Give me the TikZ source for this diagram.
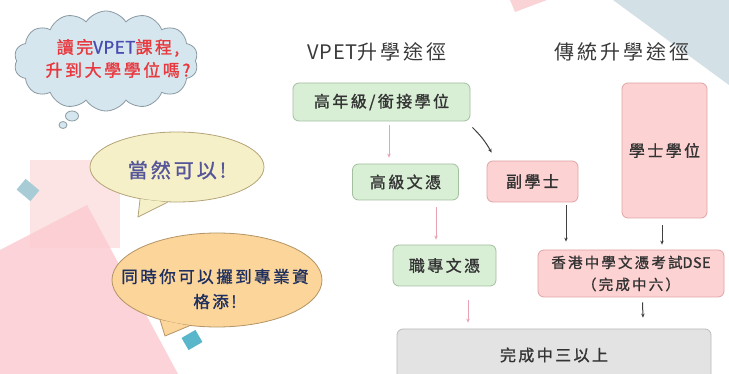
\documentclass[tikz,border=0pt]{standalone}
\usepackage{fontspec}
\setmainfont{Noto Sans CJK TC}[LetterSpace=15,AutoFakeBold=1.2]
\newcommand{\tightlat}[1]{{\addfontfeature{LetterSpace=3}#1}}
\usetikzlibrary{shapes.symbols,shapes.geometric,arrows.meta}
\definecolor{bgblue}{HTML}{D3E0E6}
\definecolor{bgpink}{HTML}{F9D3D6}
\definecolor{sqpink}{HTML}{FCE3E4}
\definecolor{tripink}{HTML}{FBCCD2}
\definecolor{sqblue}{HTML}{A8CCD5}
\definecolor{sqteal}{HTML}{5AB6CA}
\definecolor{cloudfill}{HTML}{D6E6EE}
\definecolor{cloudline}{HTML}{8A9AA2}
\definecolor{yelfill}{HTML}{F6F0C8}
\definecolor{yelline}{HTML}{B4A478}
\definecolor{orafill}{HTML}{FBD59A}
\definecolor{oraline}{HTML}{B49464}
\definecolor{redtxt}{HTML}{E8383D}
\definecolor{bluetxt}{HTML}{4A4AB0}
\definecolor{purptxt}{HTML}{55559A}
\definecolor{navytxt}{HTML}{1F2F5E}
\definecolor{headtxt}{HTML}{3A3A3A}
\definecolor{boxtxt}{HTML}{333333}
\definecolor{grnfill}{HTML}{D8EED5}
\definecolor{grnline}{HTML}{A3BFA0}
\definecolor{pnkfill}{HTML}{FDD2D2}
\definecolor{pnkline}{HTML}{E0A4A6}
\definecolor{gryfill}{HTML}{E3E3E3}
\definecolor{gryline}{HTML}{BBBBBB}
\definecolor{parrcol}{HTML}{E8A2B2}
\definecolor{darrcol}{HTML}{404040}
\begin{document}
\begin{tikzpicture}[x=1pt,y=-1pt,
  boxbase/.style={draw,rounded corners=6pt,line width=0.8pt,inner sep=0pt,align=center,text=boxtxt,font=\bfseries\fontsize{16}{20}\selectfont},
  grnbox/.style={boxbase,fill=grnfill,draw=grnline},
  pnkbox/.style={boxbase,fill=pnkfill,draw=pnkline},
  grybox/.style={boxbase,fill=gryfill,draw=gryline},
  headtext/.style={text=headtxt,font=\fontsize{20}{24}\selectfont,inner sep=0pt},
  parr/.style={draw=parrcol,line width=0.8pt,-{Stealth[length=4pt,width=3.5pt]}},
  darr/.style={draw=darrcol,line width=1pt,-{Stealth[length=4pt,width=3.5pt]}},
  bubtext/.style={inner sep=0pt,align=center,font=\bfseries\fontsize{17}{23}\selectfont}]
\useasboundingbox (0,0) rectangle (729,374);
\clip (0,0) rectangle (729,374);
\fill[white] (0,0) rectangle (729,374);
% background shapes
\fill[bgblue] (613,0) -- (729,0) -- (729,85) -- cycle;
\fill[bgpink] (510,0) -- (547,0) -- (515,12) -- cycle;
\fill[sqpink] (30,160) rectangle (120,248);
\fill[tripink,opacity=0.85] (87,205) -- (0,250) -- (0,374) -- (178,374) -- cycle;
\fill[sqblue,rotate around={-40:(28,190)}] (19,183) rectangle (37,197);
\fill[sqteal,rotate around={30:(192,340)}] (184,333) rectangle (200,347);
% thought cloud
\node[cloud,cloud puffs=14,cloud puff arc=115,aspect=1.85,minimum width=184,minimum height=100,inner sep=0pt,draw=cloudline,fill=cloudfill,line width=0.8pt] (cloud) at (106,61) {};
\node[ellipse,draw=cloudline,fill=cloudfill,line width=0.8pt,minimum width=13,minimum height=10,inner sep=0pt] (th1) at (72,116) {};
\node[ellipse,draw=cloudline,fill=cloudfill,line width=0.8pt,minimum width=8,minimum height=7,inner sep=0pt] (th2) at (63,125) {};
\node[bubtext,text=redtxt] (cloudtxt) at (118,58.5) {讀完\textcolor{bluetxt}{\tightlat{VPET}}課程,\\升到大學學位嗎?};
% bubble 2
\node[ellipse,draw=yelline,fill=yelfill,line width=0.8pt,minimum width=174,minimum height=70,inner sep=0pt] (bub2) at (177,167) {};
\fill[yelfill] (bub2.221) -- (138,217) -- (bub2.255) -- cycle;
\draw[yelline,line width=0.8pt,line join=round] (bub2.221) -- (138,217) -- (bub2.255);
\node[bubtext,text=purptxt,font=\bfseries\fontsize{20}{24}\selectfont] (bub2txt) at (177,170) {當然可以!};
% bubble 3
\node[ellipse,draw=oraline,fill=orafill,line width=0.8pt,minimum width=210,minimum height=94,inner sep=0pt] (bub3) at (217,280) {};
\fill[orafill] (bub3.215) -- (165,336) -- (bub3.239) -- cycle;
\draw[oraline,line width=0.8pt,line join=round] (bub3.215) -- (165,336) -- (bub3.239);
\node[bubtext,text=navytxt,font=\bfseries\fontsize{16.5}{25}\selectfont] (bub3txt) at (215,289) {同時你可以攞到專業資\\格添!};
% headers
\node[headtext] (h1) at (377,52) {\tightlat{VPET}升學途徑};
\node[headtext] (h2) at (622,52) {傳統升學途徑};
% boxes
\node[grnbox,minimum width=177,minimum height=38] (b1) at (381.5,102) {高年級/銜接學位};
\node[grnbox,minimum width=106,minimum height=36] (b2) at (405.5,182) {高級文憑};
\node[pnkbox,minimum width=91,minimum height=41] (b3) at (532.5,181.5) {副學士};
\node[pnkbox,minimum width=85,minimum height=135] (b4) at (664.5,150.5) {學士學位};
\node[grnbox,minimum width=103,minimum height=41] (b5) at (444.5,265.5) {職專文憑};
\node[pnkbox,minimum width=186,minimum height=47,font=\bfseries\fontsize{14.5}{22}\selectfont] (b6) at (631,273.5) {香港中學文憑考試\tightlat{DSE}\\（完成中六）};
\node[grybox,minimum width=314,minimum height=52] (b7) at (554,355) {完成中三以上};
% arrows
\draw[parr] ([xshift=7.5pt,yshift=-4pt]b1.south) -- ([xshift=-16.5pt,yshift=6pt]b2.north);
\draw[darr] ([xshift=2pt,yshift=-6pt]b1.south east) to[bend left=8] ([xshift=5pt,yshift=8pt]b3.north west);
\draw[parr] ([xshift=30.5pt,yshift=-7pt]b2.south) -- ([xshift=-8.5pt,yshift=5pt]b5.north);
\draw[darr] ([xshift=33.5pt,yshift=-3pt]b3.south) -- ([xshift=-65pt,yshift=8pt]b6.north);
\draw[darr] ([xshift=-2.5pt,yshift=-7pt]b4.south) -- ([xshift=31pt,yshift=5pt]b6.north);
\draw[parr] ([xshift=23.5pt,yshift=-14pt]b5.south) -- ([xshift=-86pt,yshift=6pt]b7.north);
\draw[darr] ([xshift=11.5pt,yshift=-5pt]b6.south) -- ([xshift=89pt,yshift=11pt]b7.north);
\end{tikzpicture}
\end{document}
